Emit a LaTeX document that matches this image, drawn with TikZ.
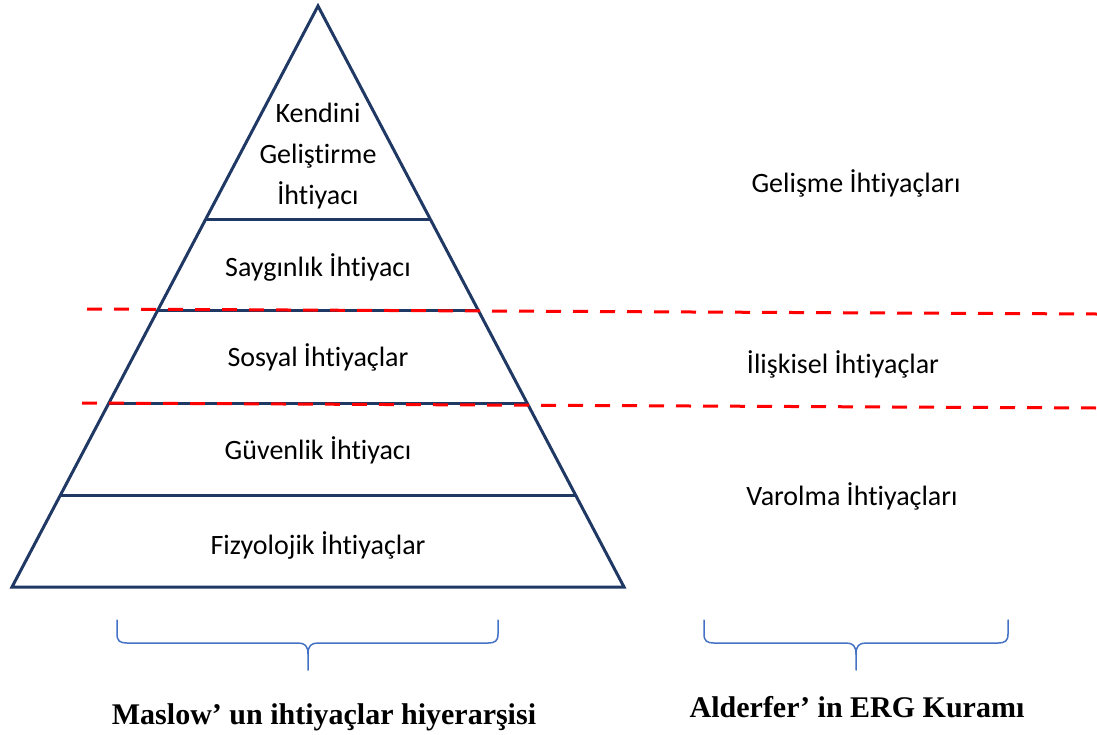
\documentclass[tikz,border=0pt]{standalone}
\usepackage{fontspec}
\setmainfont{Carlito}[Ligatures={NoCommon}]
\newfontfamily\titlefont{Liberation Serif}
\definecolor{navy}{HTML}{1F3864}
\definecolor{bracecol}{HTML}{4472C4}
\definecolor{reddash}{HTML}{FF0000}
\begin{document}
\begin{tikzpicture}[x=1pt,y=-1pt,
  pyr/.style={draw=navy,line width=3pt,line join=miter},
  tier/.style={draw=navy,line width=3pt},
  sep/.style={draw=reddash,line width=3pt,dash pattern=on 15pt off 12pt},
  brc/.style={draw=bracecol,line width=1.5pt,line cap=round},
  lbl/.style={font=\fontsize{28}{41}\selectfont,inner sep=0pt,align=center},
  ttl/.style={font=\titlefont\bfseries\fontsize{30}{36}\selectfont,inner sep=0pt}]
\useasboundingbox (0,0) rectangle (1097,734);
% pyramid
\coordinate (apex) at (318,6);
\coordinate (bl) at (12,587);
\coordinate (br) at (624,587);
\draw[pyr] (apex) -- (br) -- (bl) -- cycle;
\draw[tier] (206,219) -- (430,219);
\draw[tier] (158,310) -- (478,310);
\draw[tier] (109,403) -- (527,403);
\draw[tier] (60,495) -- (576,495);
% red dashed separators
\draw[sep] (87,309) -- (1097,314);
\draw[sep] (82,403) -- (1097,408);
% pyramid labels
\node[lbl] (self) at (318,156) {Kendini\\Geliştirme\\İhtiyacı};
\node[lbl] (esteem) at (318,267) {Saygınlık İhtiyacı};
\node[lbl] (social) at (318,357) {Sosyal İhtiyaçlar};
\node[lbl] (safety) at (318,450) {Güvenlik İhtiyacı};
\node[lbl] (phys) at (318,545) {Fizyolojik İhtiyaçlar};
% ERG labels
\node[lbl] (growth) at (856,183) {Gelişme İhtiyaçları};
\node[lbl] (relat) at (843,364) {İlişkisel İhtiyaçlar};
\node[lbl] (exist) at (852,496) {Varolma İhtiyaçları};
% braces
\draw[brc] (117,620) -- (117,634) .. controls (117,641) and (120,643) .. (127,643)
  -- (298,643) .. controls (305,643) and (308,646) .. (308,654) -- (308,670);
\draw[brc] (498,620) -- (498,634) .. controls (498,641) and (495,643) .. (488,643)
  -- (318,643) .. controls (311,643) and (308,646) .. (308,654);
\draw[brc] (704,620) -- (704,634) .. controls (704,641) and (707,643) .. (714,643)
  -- (846,643) .. controls (853,643) and (856,646) .. (856,654) -- (856,670);
\draw[brc] (1008,620) -- (1008,634) .. controls (1008,641) and (1005,643) .. (998,643)
  -- (866,643) .. controls (859,643) and (856,646) .. (856,654);
% titles
\node[ttl] (maslow) at (324,717) {Maslow’ un ihtiyaçlar hiyerarşisi};
\node[ttl] (erg) at (857,707) {Alderfer’ in ERG Kuramı};
\end{tikzpicture}
\end{document}
